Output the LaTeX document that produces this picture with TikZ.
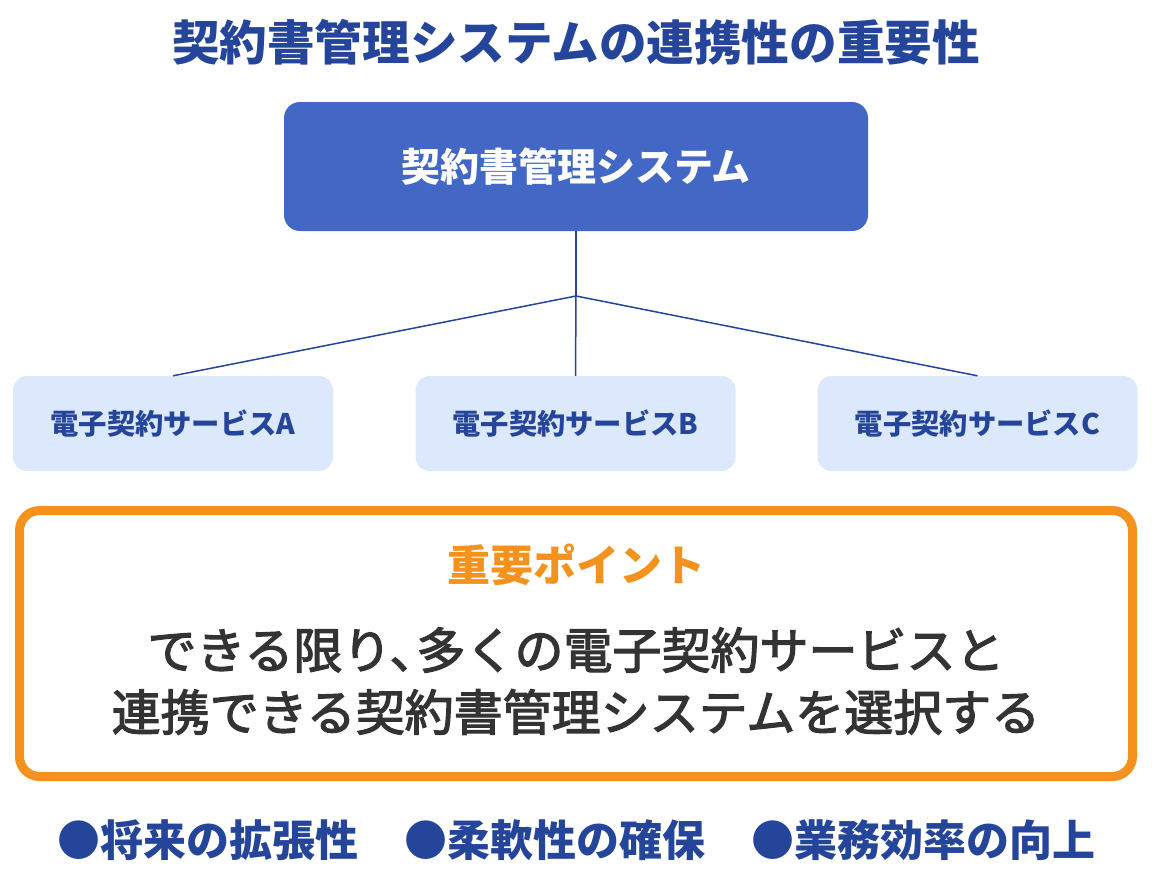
\documentclass[tikz,border=0pt]{standalone}
\usepackage{fontspec}
\setmainfont{Noto Sans CJK JP}
\newfontfamily\jpmid{Noto Sans CJK JP}[FakeBold=2.5]

\definecolor{navy}{HTML}{25459A}
\definecolor{sysblue}{HTML}{4267C4}
\definecolor{svcfill}{HTML}{DCE8FC}
\definecolor{pointorange}{HTML}{F5921E}
\definecolor{bodygray}{HTML}{333333}

\tikzset{
  svcbox/.style={fill=svcfill,rounded corners=14pt,minimum width=320pt,minimum height=95pt,
    text=navy,font=\bfseries\fontsize{28.3pt}{34pt}\selectfont},
  merit/.style={text=navy,font=\bfseries\fontsize{43pt}{50pt}\selectfont},
  link/.style={draw=navy,line width=1.5pt}
}

\begin{document}
\begin{tikzpicture}[x=1pt,y=-1pt]
  \useasboundingbox (0,0) rectangle (1152,878);

  \node (title) at (576,42) [text=navy,font=\bfseries\fontsize{47.6pt}{54pt}\selectfont] {契約書管理システムの連携性の重要性};

  \node (sys) at (576,166.5) [fill=sysblue,rounded corners=16pt,minimum width=584pt,minimum height=129pt,
    text=white,font=\bfseries\fontsize{39pt}{46pt}\selectfont] {契約書管理システム};

  \node (svcA) at (173,423.5)   [svcbox] {電子契約サービスA};
  \node (svcB) at (575.5,423.5) [svcbox] {電子契約サービスB};
  \node (svcC) at (977.5,423.5) [svcbox] {電子契約サービスC};

  \coordinate (hub) at (576,296);
  \draw [link] (sys.south) -- (hub);
  \draw [link] (hub) -- (svcA.north);
  \draw [link] (hub) -- (svcB.north);
  \draw [link] (hub) -- (svcC.north);

  \node (point) at (576,643.5) [draw=pointorange,line width=9pt,rounded corners=20pt,
    minimum width=1113pt,minimum height=266pt] {};
  \node (pointhead) at (576,565) [text=pointorange,font=\bfseries\fontsize{43pt}{50pt}\selectfont] {重要ポイント};
  \node (pointtext) at (576,681) [text=bodygray,align=center,font=\jpmid\fontsize{49pt}{62pt}\selectfont]
    {できる限り、\hspace{-0.45em}多くの電子契約サービスと\\連携できる契約書管理システムを選択する};

  \node (merit1) at (208,840) [merit] {●将来の拡張性};
  \node (merit2) at (555,840) [merit] {●柔軟性の確保};
  \node (merit3) at (923,840) [merit] {●業務効率の向上};
\end{tikzpicture}
\end{document}
